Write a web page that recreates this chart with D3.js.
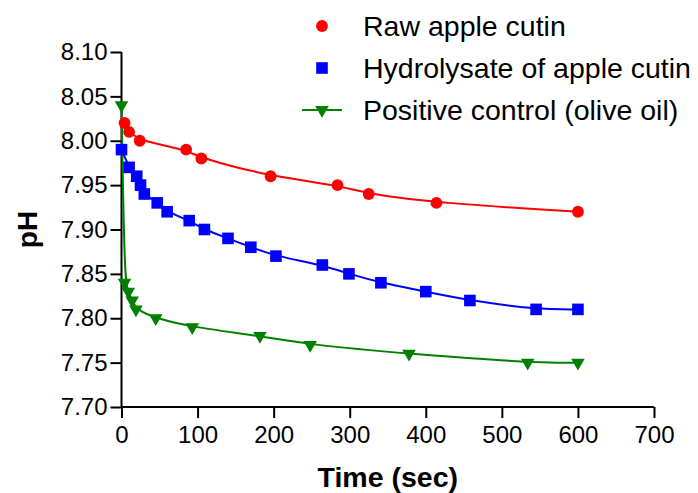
<!DOCTYPE html>
<html>
<head>
<meta charset="utf-8">
<script src="https://cdn.jsdelivr.net/npm/d3@7"></script>
<style>
  body { margin: 0; background: #fff; }
  svg { display: block; font-family: "Liberation Sans", Arial, sans-serif; }
</style>
</head>
<body>
<svg id="chart"></svg>
<script>
// values
const rawTime = [4, 10, 24, 85, 105, 196, 284, 325, 414, 600];
const rawPH = [8.02, 8.01, 8.00, 7.99, 7.98, 7.96, 7.95, 7.94, 7.93, 7.92];

const hydTime = [0, 10, 20, 25, 30, 47, 60, 89, 109, 140, 170, 203, 264, 299, 341, 400, 458, 545, 600];
const hydPH = [7.99, 7.97, 7.96, 7.95, 7.94, 7.93, 7.92, 7.91, 7.90, 7.89, 7.88, 7.87, 7.86, 7.85, 7.84, 7.83, 7.82, 7.81, 7.81];

const oilTime = [0, 4, 9, 14, 19, 45, 93, 182, 248, 378, 534, 600];
const oilPH = [8.04, 7.84, 7.83, 7.82, 7.81, 7.80, 7.79, 7.78, 7.77, 7.76, 7.75, 7.75];

const xTicks = [0, 100, 200, 300, 400, 500, 600, 700];
const yTicks = [7.70, 7.75, 7.80, 7.85, 7.90, 7.95, 8.00, 8.05, 8.10];

const seriesNames = ["Raw apple cutin", "Hydrolysate of apple cutin", "Positive control (olive oil)"];

const margin = { top: 52, right: 44, bottom: 86, left: 121.5 };
const totalW = 698, totalH = 493;
const width = totalW - margin.left - margin.right;
const height = totalH - margin.top - margin.bottom;

const svg = d3.select("#chart").attr("width", totalW).attr("height", totalH);
const g = svg.append("g").attr("transform", `translate(${margin.left},${margin.top})`);

const x = d3.scaleLinear().domain([0, 700]).range([0, width]);
const y = d3.scaleLinear().domain([7.70, 8.10]).range([height, 0]);

const series = [
  { name: seriesNames[0], color: "#ff0000", shape: "circle",
    pts: rawTime.map((t, i) => ({ t: t, v: rawPH[i] })) },
  { name: seriesNames[1], color: "#0000ff", shape: "square",
    pts: hydTime.map((t, i) => ({ t: t, v: hydPH[i] })) },
  { name: seriesNames[2], color: "#008000", shape: "triangle",
    pts: oilTime.map((t, i) => ({ t: t, v: oilPH[i] })) }
];

// axes
const xAxis = g.append("g")
  .attr("transform", `translate(0,${height})`)
  .call(d3.axisBottom(x).tickValues(xTicks).tickSize(11).tickSizeOuter(0).tickPadding(8));

const yAxis = g.append("g")
  .call(d3.axisLeft(y).tickValues(yTicks).tickFormat(d3.format(".2f")).tickSize(11).tickSizeOuter(0).tickPadding(3));

[xAxis, yAxis].forEach(a => {
  a.selectAll("path, line").attr("stroke", "#000").attr("stroke-width", 2);
  a.selectAll("text").attr("fill", "#000").style("font-size", "24px");
});
xAxis.select(".domain").attr("d", `M0,0H${width}`);
yAxis.select(".domain").attr("d", `M0,0V${height}`);

// fitted-looking lines
const line = d3.line()
  .x(d => x(d.t))
  .y(d => y(d.v))
  .curve(d3.curveBasis);

series.forEach(s => {
  g.append("path")
    .datum(s.pts)
    .attr("fill", "none")
    .attr("stroke", s.color)
    .attr("stroke-width", 2)
    .attr("d", line);
});

function symbolFor(shape) {
  if (shape === "circle") return d3.symbol().type(d3.symbolCircle).size(110);
  if (shape === "square") return d3.symbol().type(d3.symbolSquare).size(135);
  return d3.symbol().type(d3.symbolTriangle).size(80);
}

series.forEach(s => {
  g.selectAll(null)
    .data(s.pts)
    .join("path")
    .attr("d", symbolFor(s.shape)())
    .attr("fill", s.color)
    .attr("transform", d => `translate(${x(d.t)},${y(d.v)})` + (s.shape === "triangle" ? " rotate(180)" : ""));
});

// axis titles
svg.append("text")
  .attr("x", margin.left + width / 2)
  .attr("y", 487)
  .attr("text-anchor", "middle")
  .style("font-size", "28.5px")
  .style("font-weight", "bold")
  .text("Time (sec)");

svg.append("text")
  .attr("transform", `translate(37,${margin.top + height / 2}) rotate(-90)`)
  .attr("text-anchor", "middle")
  .style("font-size", "28px")
  .style("font-weight", "bold")
  .text("pH");

// legend
const legend = svg.append("g").attr("transform", "translate(322,26)");
series.forEach((s, i) => {
  const row = legend.append("g").attr("transform", `translate(0,${i * 42})`);
  if (s.shape === "triangle") {
    row.append("line")
      .attr("x1", -20).attr("x2", 20)
      .attr("stroke", s.color).attr("stroke-width", 2);
  }
  row.append("path")
    .attr("d", symbolFor(s.shape)())
    .attr("fill", s.color)
    .attr("transform", s.shape === "triangle" ? "rotate(180)" : null);
  row.append("text")
    .attr("x", 41)
    .attr("y", 10)
    .style("font-size", "28.5px")
    .text(s.name);
});
</script>
</body>
</html>
